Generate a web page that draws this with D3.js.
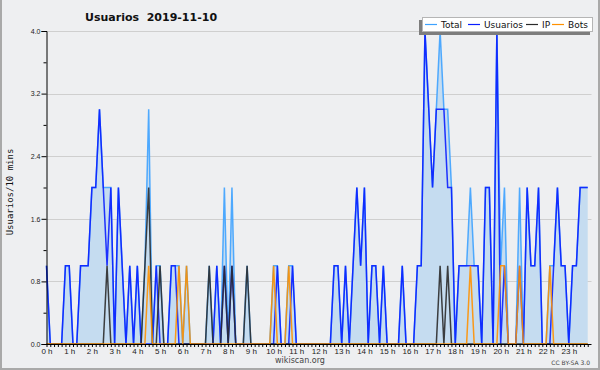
<!DOCTYPE html>
<html>
<head>
<meta charset="utf-8">
<title>Usuarios 2019-11-10</title>
<script src="https://d3js.org/d3.v7.min.js"></script>
<style>
  body { margin: 0; background: #eeeff1; }
  svg { display: block; font-family: "DejaVu Sans", sans-serif; }
</style>
</head>
<body>
<svg width="600" height="370"></svg>
<script>
// one value per 10 minutes, one row per hour (0 h .. 23 h)
var total = [
  1,0,0,0,0,1,  1,0,0,1,1,1,  2,2,3,2,2,2,  0,2,1,0,1,0,
  1,0,1,3,0,1,  1,0,0,1,1,1,  0,1,0,0,0,0,  0,1,0,1,0,2,
  0,2,0,0,0,1,  0,0,0,0,0,0,  1,1,0,0,1,1,  0,0,0,0,0,0,
  0,0,0,0,1,1,  0,1,0,1,2,1,  2,0,1,1,0,1,  0,0,0,0,1,0,
  0,0,1,1,4,3,  2,3,4,3,3,2,  0,1,1,1,2,1,  1,0,2,2,0,4,
  1,2,0,0,0,2,  0,2,1,1,2,0,  0,1,1,2,1,1,  0,1,1,2,2,2
];
var usuarios = [
  1,0,0,0,0,1,  1,0,0,1,1,1,  2,2,3,2,1,2,  0,2,1,0,1,0,
  1,0,0,0,0,1,  0,0,0,1,1,0,  0,0,0,0,0,0,  0,0,0,1,0,1,
  0,1,0,0,0,0,  0,0,0,0,0,0,  0,1,0,0,0,1,  0,0,0,0,0,0,
  0,0,0,0,1,1,  0,1,0,1,2,1,  2,0,1,1,0,1,  0,0,0,0,1,0,
  0,0,1,1,4,3,  2,3,3,3,2,2,  0,1,1,1,1,1,  1,0,2,2,0,4,
  0,1,0,0,0,1,  0,2,1,1,2,0,  0,0,1,2,1,1,  0,1,1,2,2,2
];
var ip = [
  0,0,0,0,0,0,  0,0,0,0,0,0,  0,0,0,0,1,0,  0,0,0,0,0,0,
  0,0,1,2,0,0,  1,0,0,0,0,0,  0,0,0,0,0,0,  0,1,0,0,0,1,
  0,1,0,0,0,1,  0,0,0,0,0,0,  0,0,0,0,0,0,  0,0,0,0,0,0,
  0,0,0,0,0,0,  0,0,0,0,0,0,  0,0,0,0,0,0,  0,0,0,0,0,0,
  0,0,0,0,0,0,  0,0,1,0,1,0,  0,0,0,0,0,0,  0,0,0,0,0,0,
  0,0,0,0,0,0,  0,0,0,0,0,0,  0,0,0,0,0,0,  0,0,0,0,0,0
];
var bots = [
  0,0,0,0,0,0,  0,0,0,0,0,0,  0,0,0,0,0,0,  0,0,0,0,0,0,
  0,0,0,1,0,0,  0,0,0,0,0,1,  0,1,0,0,0,0,  0,0,0,0,0,0,
  0,0,0,0,0,0,  0,0,0,0,0,0,  1,0,0,0,1,0,  0,0,0,0,0,0,
  0,0,0,0,0,0,  0,0,0,0,0,0,  0,0,0,0,0,0,  0,0,0,0,0,0,
  0,0,0,0,0,0,  0,0,0,0,0,0,  0,0,0,0,1,0,  0,0,0,0,0,0,
  1,1,0,0,0,1,  0,0,0,0,0,0,  0,1,0,0,0,0,  0,0,0,0,0,0
];
var yTicks = [0, 0.8, 1.6, 2.4, 3.2, 4.0];
var yMinor = [0.4, 1.2, 2.0, 2.8, 3.6];

var series = [
  {name: "Total", values: total, color: "#3ea2ff"},
  {name: "Usuarios", values: usuarios, color: "#0a1eff"},
  {name: "IP", values: ip, color: "#2b2b2b"},
  {name: "Bots", values: bots, color: "#ff9100"}
];

var svg = d3.select("svg");
var x0 = 46.5, x1 = 591.5, y0 = 344, y1 = 31;

var x = d3.scaleLinear().domain([0, 24]).range([x0, x1]);
var y = d3.scaleLinear().domain([0, 4]).range([y0, y1]);
var hour = function(d, i) { return i / 6; };

// frame
svg.append("path")
  .attr("d", "M1,0V369H599V0")
  .attr("fill", "none").attr("stroke", "#a9a9a9").attr("stroke-width", 2);

// grid
svg.append("g").selectAll("line")
  .data(yTicks.slice(1)).join("line")
  .attr("x1", x0).attr("x2", x1)
  .attr("y1", function(d) { return Math.round(y(d)) + 0.5; })
  .attr("y2", function(d) { return Math.round(y(d)) + 0.5; })
  .attr("stroke", "#cfcfcf");

// area under total
var area = d3.area()
  .x(function(d, i) { return x(hour(d, i)); })
  .y0(y(0))
  .y1(function(d) { return y(d); });
svg.append("path")
  .datum(total)
  .attr("d", area)
  .attr("fill", "#c5dcf0");

var line = d3.line()
  .x(function(d, i) { return x(hour(d, i)); })
  .y(function(d) { return y(d); });

svg.append("g").selectAll("path")
  .data(series).join("path")
  .attr("d", function(s) { return line(s.values); })
  .attr("fill", "none")
  .attr("stroke", function(s) { return s.color; })
  .attr("stroke-width", 1.5)
  .attr("stroke-opacity", 0.9);

// axes
var xAxis = d3.axisBottom(x)
  .tickValues(d3.range(144).map(function(i) { return i / 6; }))
  .tickSize(3).tickPadding(1)
  .tickFormat(function(d) {
    var h = Math.round(d);
    return Math.abs(d - h) < 1e-6 ? h + " h" : "";
  });
var gx = svg.append("g").attr("transform", "translate(0," + y0 + ")").call(xAxis);
gx.select(".domain").attr("d", "M" + x0 + ",0.5H" + x1);
gx.selectAll("text").attr("font-size", 8).attr("fill", "#222");

var yAxis = d3.axisLeft(y).tickValues(yTicks).tickSize(5).tickPadding(1)
  .tickFormat(d3.format(".1f"));
var gy = svg.append("g").attr("transform", "translate(" + x0 + ",0)").call(yAxis);
gy.selectAll("text").attr("font-size", 7).attr("fill", "#222");
var gym = svg.append("g").attr("transform", "translate(" + x0 + ",0)")
  .call(d3.axisLeft(y).tickValues(yMinor).tickSize(3).tickFormat(""));
gym.select(".domain").remove();
svg.selectAll(".domain").attr("stroke", "#000");

// titles
svg.append("text")
  .attr("x", 85).attr("y", 21)
  .attr("font-size", 11).attr("font-weight", "bold").attr("fill", "#111")
  .attr("xml:space", "preserve")
  .text("Usuarios  2019-11-10");

svg.append("text")
  .attr("transform", "translate(13,192) rotate(-90)")
  .attr("text-anchor", "middle")
  .attr("font-family", "DejaVu Sans Mono, monospace")
  .attr("font-size", 9).attr("fill", "#111")
  .text("Usuarios/10 mins");

svg.append("text")
  .attr("x", 300).attr("y", 363).attr("text-anchor", "middle")
  .attr("font-size", 8).attr("fill", "#444")
  .text("wikiscan.org");

svg.append("text")
  .attr("x", 590).attr("y", 365).attr("text-anchor", "end")
  .attr("font-size", 6).attr("fill", "#444")
  .text("CC BY-SA 3.0");

// legend
var lg = svg.append("g");
lg.append("rect").attr("x", 419).attr("y", 20).attr("width", 171).attr("height", 15).attr("fill", "#7d7d7d");
lg.append("rect").attr("x", 422.5).attr("y", 17.5).attr("width", 170).attr("height", 14)
  .attr("fill", "#fff").attr("stroke", "#b5b5b5");
var legendX = [425, 468, 526, 552];
var item = lg.selectAll("g.item").data(series).join("g").attr("class", "item")
  .attr("transform", function(s, i) { return "translate(" + legendX[i] + ",0)"; });
item.append("line").attr("x1", 0).attr("x2", 12).attr("y1", 24.5).attr("y2", 24.5)
  .attr("stroke", function(s) { return s.color; }).attr("stroke-width", 1.2);
item.append("text").attr("x", 16).attr("y", 28).attr("font-size", 9).attr("fill", "#111")
  .text(function(s) { return s.name; });
</script>
</body>
</html>
